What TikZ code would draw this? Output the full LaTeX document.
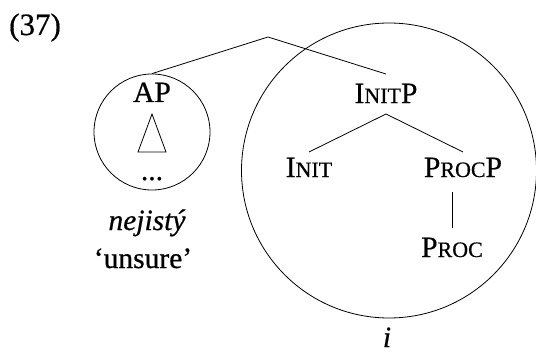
\documentclass[tikz,border=0pt]{standalone}
\usepackage{fontspec}
\setmainfont{Liberation Serif}[FakeBold=0.6]
\begin{document}
\begin{tikzpicture}[x=1pt,y=-1pt,
  lbl/.style={anchor=base,inner sep=0pt,font=\fontsize{29.5}{34}\selectfont},
  ring/.style={circle,draw,line width=0.8pt,inner sep=0pt},
  edge/.style={line width=0.8pt}]
\newcommand{\ssc}[1]{{\fontsize{22}{26}\selectfont #1}}
\useasboundingbox (0,0) rectangle (536,353);
% example number
\node[lbl,anchor=base west,font=\fontsize{31}{34}\selectfont] (num) at (9,35) {(37)};
% circles
\node[ring,minimum size=116pt] (apc) at (152,132) {};
\node[ring,minimum size=295pt] (bigc) at (389,170.5) {};
% top joint
\coordinate (top) at (268,37);
% labels
\node[lbl] (ap) at (152,102) {AP};
\node[lbl] (dots) at (152,180) {...};
\node[lbl] (nej) at (147,230) {\itshape nejistý};
\node[lbl] (uns) at (143,268) {‘unsure’};
\node[lbl] (initp) at (386,103) {I\ssc{NIT}P};
\node[lbl] (init) at (309,177) {I\ssc{NIT}};
\node[lbl] (procp) at (463,177) {P\ssc{ROC}P};
\node[lbl] (proc) at (452,257) {P\ssc{ROC}};
\node[lbl] (ivar) at (387,347) {\itshape i};
% triangle
\draw[edge,line join=miter] (152,114) -- (166,152) -- (138,152) -- cycle;
% connector ends
\coordinate (initpT) at (386,74);
\coordinate (initpB) at (386,114);
\coordinate (initT) at (309,152);
\coordinate (procpT) at (463,152);
\coordinate (procpB) at (452,192);
\coordinate (procT) at (452,228);
\draw[edge] (apc.north) -- (top) -- (initpT);
\draw[edge] (initT) -- (initpB) -- (procpT);
\draw[edge] (procpB) -- (procT);
\end{tikzpicture}
\end{document}
